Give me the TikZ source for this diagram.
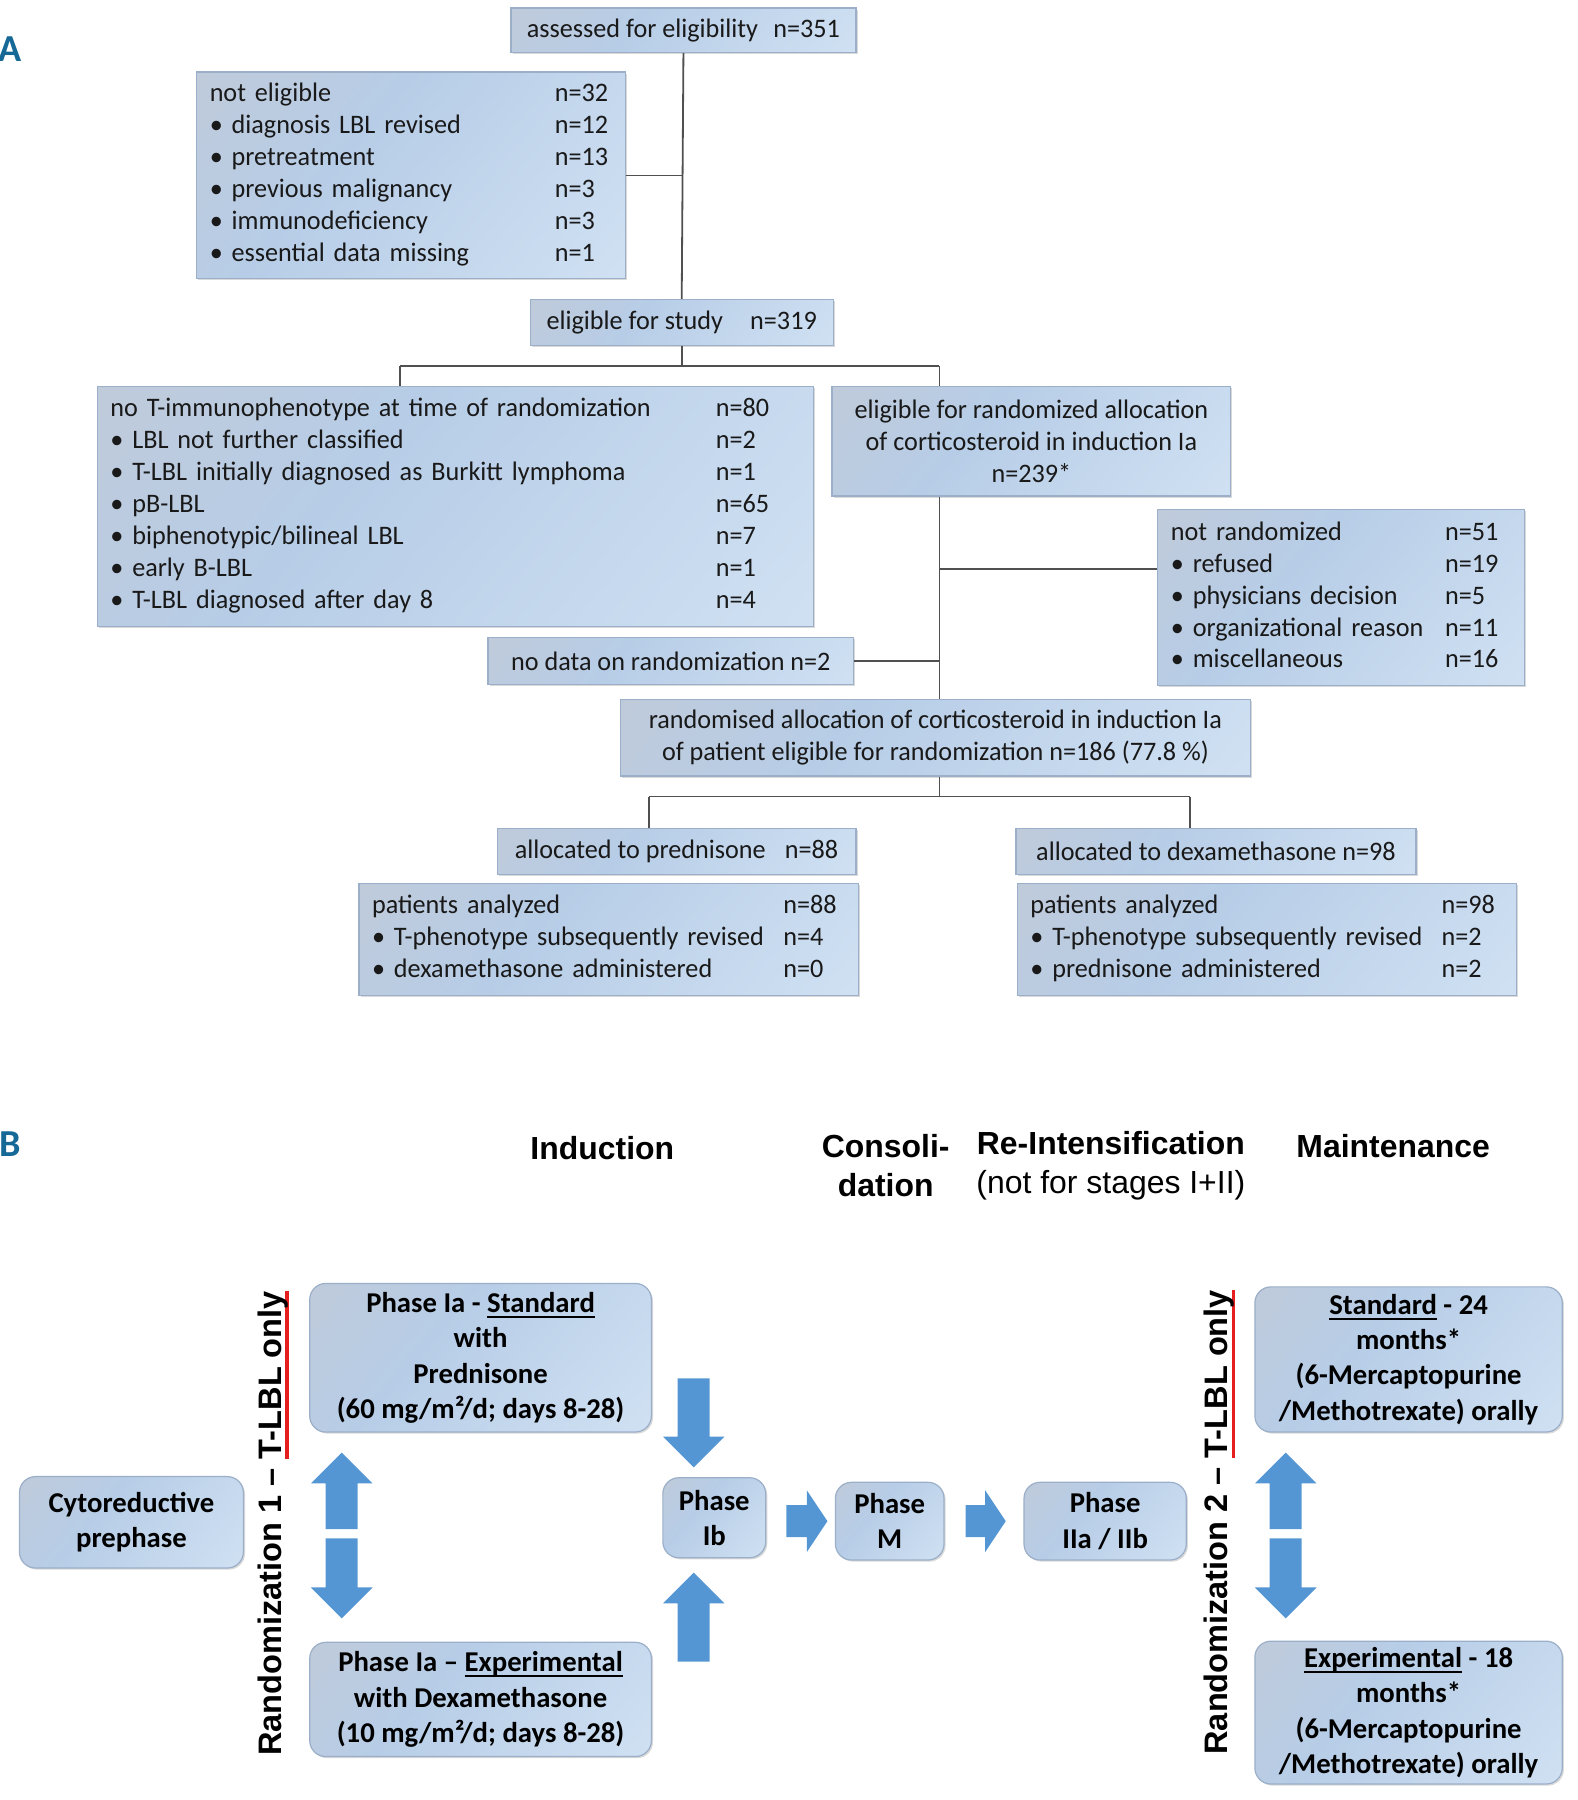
\documentclass[tikz,border=0pt]{standalone}
\usepackage{fontspec}
\setmainfont{Carlito}
\newfontfamily\carA{Carlito}[FakeStretch=0.98]
\newfontfamily\hdr{Liberation Sans}
\usetikzlibrary{shadows}
\definecolor{gA}{RGB}{196,201,211}
\definecolor{gB}{RGB}{183,205,231}
\definecolor{gC}{RGB}{216,231,246}
\definecolor{bordc}{RGB}{155,175,200}
\definecolor{linec}{RGB}{80,80,80}
\definecolor{txtc}{RGB}{25,25,25}
\definecolor{arrc}{RGB}{84,150,211}
\definecolor{labc}{RGB}{22,104,150}
\definecolor{ulred}{RGB}{230,30,30}
\pgfdeclarehorizontalshading{boxgrad}{100bp}{color(0bp)=(gA); color(40bp)=(gB); color(100bp)=(gC)}
\newcommand{\fA}{\carA\fontsize{13.3pt}{15.9pt}\selectfont}
\newcommand{\fB}{\fontsize{14.3pt}{17.6pt}\selectfont\bfseries}
\newcommand{\fH}{\hdr\fontsize{15.9pt}{19.3pt}\selectfont}
\newcommand{\fR}{\hdr\fontsize{16.2pt}{19.3pt}\selectfont\bfseries}
\newsavebox\ulbox
\newcommand{\myul}[2]{\sbox\ulbox{#2}\rlap{\color{#1}\rule[-2.8pt]{\wd\ulbox}{1pt}}\usebox\ulbox}
\newcommand{\myulr}[2]{\sbox\ulbox{#2}\rlap{\color{#1}\rule[-3.6pt]{\wd\ulbox}{1.6pt}}\usebox\ulbox}
\newcommand{\blkup}[3]{\fill[arrc] ({#1-14},#3) -- ({#1-14},{#2+27}) -- ({#1-27},{#2+27}) -- (#1,#2) -- ({#1+27},{#2+27}) -- ({#1+14},{#2+27}) -- ({#1+14},#3) -- cycle;}
\newcommand{\blkdown}[3]{\fill[arrc] ({#1-14},#3) -- ({#1-14},{#2-27}) -- ({#1-27},{#2-27}) -- (#1,#2) -- ({#1+27},{#2-27}) -- ({#1+14},{#2-27}) -- ({#1+14},#3) -- cycle;}
\newcommand{\blkright}[3]{\fill[arrc] (#3,{#1-14}) -- ({#2-18},{#1-14}) -- ({#2-18},{#1-27}) -- (#2,#1) -- ({#2-18},{#1+27}) -- ({#2-18},{#1+14}) -- (#3,{#1+14}) -- cycle;}
\tikzset{
  shadowstyle/.style={drop shadow={shadow xshift=0.8pt, shadow yshift=-0.8pt, opacity=0.25, fill=black!60}},
  abox/.style={draw=bordc, line width=0.6pt, shading=boxgrad, shading angle=-40, shadowstyle,
    inner xsep=0.23cm, inner ysep=0pt, font=\fA, text=txtc},
  cbox/.style={abox, align=center, inner xsep=0pt},
  bbox/.style={draw=bordc, line width=0.6pt, rounded corners=0.28cm, shading=boxgrad, shading angle=-40,
    shadowstyle, font=\fB, text=black, align=center, inner sep=0pt},
  conn/.style={draw=linec, line width=0.9pt},
  hdrs/.style={font={\fH\bfseries}, text=black, align=center, inner sep=0pt},
  rot/.style={rotate=90, font=\fR, text=black, inner sep=0pt},
  lab/.style={font={\fontsize{19pt}{22pt}\selectfont\bfseries}, text=labc, inner sep=0pt}
}
\begin{document}
\begin{tikzpicture}[x=0.02cm, y=-0.02cm]
\useasboundingbox (0,0) rectangle (1380,1575);
% ---------- Part A ----------
\node[lab] (la) at (9,43) {A};
\node[cbox, minimum width=6.04cm, minimum height=0.78cm] (n1) at (598,26.5) {assessed for eligibility\hspace{0.35em} n=351};
\node[abox, text width=7.04cm, minimum height=3.62cm, align=left] (n2) at (359.5,153.5) {%
\begin{tabular}{@{}p{6.04cm}@{}l@{}}
not eligible & n=32\\
• diagnosis LBL revised & n=12\\
• pretreatment & n=13\\
• previous malignancy & n=3\\
• immunodeficiency & n=3\\
• essential data missing & n=1
\end{tabular}};
\node[cbox, minimum width=5.3cm, minimum height=0.8cm] (n3) at (596.5,282) {eligible for study\hspace{0.8em} n=319};
\node[abox, text width=12.08cm, minimum height=4.2cm, align=left] (n4) at (398.5,443) {%
\begin{tabular}{@{}p{10.6cm}@{}l@{}}
no T-immunophenotype at time of randomization & n=80\\
• LBL not further classified & n=2\\
• T-LBL initially diagnosed as Burkitt lymphoma & n=1\\
• pB-LBL & n=65\\
• biphenotypic/bilineal LBL & n=7\\
• early B-LBL & n=1\\
• T-LBL diagnosed after day 8 & n=4
\end{tabular}};
\node[cbox, minimum width=6.98cm, minimum height=1.92cm] (n5) at (902.5,386) {eligible for randomized allocation\\of corticosteroid in induction Ia\\n=239*};
\node[abox, text width=5.96cm, minimum height=3.08cm, align=left] (n6) at (1173.5,523) {%
\begin{tabular}{@{}p{4.8cm}@{}l@{}}
not randomized & n=51\\
• refused & n=19\\
• physicians decision & n=5\\
• organizational reason & n=11\\
• miscellaneous & n=16
\end{tabular}};
\node[cbox, minimum width=6.4cm, minimum height=0.82cm] (n7) at (587,578.5) {no data on randomization n=2};
\node[cbox, minimum width=11.02cm, minimum height=1.34cm] (n8) at (818.5,645.5) {randomised allocation of corticosteroid in induction Ia\\of patient eligible for randomization n=186 (77.8~\%)};
\node[cbox, minimum width=6.28cm, minimum height=0.8cm] (n9) at (592,745) {allocated to prednisone\hspace{0.5em} n=88};
\node[cbox, minimum width=7.0cm, minimum height=0.8cm] (n10) at (1064,745) {allocated to dexamethasone n=98};
\node[abox, text width=8.28cm, minimum height=1.96cm, align=left] (n11) at (532.5,822) {%
\begin{tabular}{@{}p{7.2cm}@{}l@{}}
patients analyzed & n=88\\
• T-phenotype subsequently revised & n=4\\
• dexamethasone administered & n=0
\end{tabular}};
\node[abox, text width=8.28cm, minimum height=1.96cm, align=left] (n12) at (1108.5,822) {%
\begin{tabular}{@{}p{7.2cm}@{}l@{}}
patients analyzed & n=98\\
• T-phenotype subsequently revised & n=2\\
• prednisone administered & n=2
\end{tabular}};
% connectors A
\draw[conn] (n1.south) -- (n3.north);
\draw[conn] (n2.east) -- (n2.east -| n1.south);
\coordinate (j1) at (596.5,320);
\coordinate (j1l) at (350,320);
\coordinate (j1r) at (822,320);
\draw[conn] (n3.south) -- (j1);
\draw[conn] (j1l) -- (j1r);
\draw[conn] (j1l) -- (j1l |- n4.north);
\draw[conn] (j1r) -- (j1r |- n5.north);
\draw[conn] (j1r |- n5.south) -- (j1r |- n8.north);
\coordinate (j2) at (822,498);
\draw[conn] (j2) -- (j2 -| n6.west);
\coordinate (j3) at (822,578.5);
\draw[conn] (n7.east) -- (j3);
\coordinate (j4) at (822,697);
\coordinate (j4l) at (568,697);
\coordinate (j4r) at (1041,697);
\draw[conn] (j1r |- n8.south) -- (j4);
\draw[conn] (j4l) -- (j4r);
\draw[conn] (j4l) -- (j4l |- n9.north);
\draw[conn] (j4r) -- (j4r |- n10.north);
% ---------- Part B ----------
\node[lab] (lb) at (9,1001) {B};
\node[hdrs] (h1) at (527,1005) {Induction};
\node[hdrs] (h2) at (775,1020) {Consoli-\\dation};
\node[hdrs, font=\fH] (h3) at (972,1020) {{\bfseries Re-Intensification}\\(not for stages I+II)};
\node[hdrs] (h4) at (1219,1003) {Maintenance};
\node[bbox, minimum width=3.92cm, minimum height=1.6cm] (b1) at (115,1332) {Cytoreductive\\prephase};
\node[rot] (r1) at (239,1333) {Randomization 1 – \myulr{ulred}{T-LBL only}};
\node[bbox, minimum width=5.98cm, minimum height=2.6cm] (b2) at (420.5,1188) {Phase Ia - \myul{black}{Standard}\\with\\Prednisone\\(60 mg/m²/d; days 8-28)};
\node[bbox, minimum width=5.98cm, minimum height=2.0cm] (b3) at (420.5,1487) {Phase Ia – \myul{black}{Experimental}\\with Dexamethasone\\(10 mg/m²/d; days 8-28)};
\node[bbox, minimum width=1.8cm, minimum height=1.4cm] (b4) at (625,1328) {Phase\\Ib};
\node[bbox, minimum width=1.9cm, minimum height=1.36cm] (b5) at (778.5,1331) {Phase\\M};
\node[bbox, minimum width=2.84cm, minimum height=1.36cm] (b6) at (967,1331) {Phase\\IIa / IIb};
\node[rot] (r2) at (1067,1332) {Randomization 2 – \myulr{ulred}{T-LBL only}};
\node[bbox, minimum width=5.38cm, minimum height=2.54cm] (b7) at (1232.5,1189.5) {\myul{black}{Standard} - 24\\months*\\(6-Mercaptopurine\\/Methotrexate) orally};
\node[bbox, minimum width=5.38cm, minimum height=2.5cm] (b8) at (1232.5,1498.5) {\myul{black}{Experimental} - 18\\months*\\(6-Mercaptopurine\\/Methotrexate) orally};
% block arrows
\blkup{299}{1271}{1338}
\blkdown{299}{1416}{1346}
\blkdown{607}{1284}{1206}
\blkup{607}{1376}{1454}
\blkright{1331}{724}{688}
\blkright{1331}{880}{845}
\blkup{1125}{1271}{1338}
\blkdown{1125}{1416}{1346}
\end{tikzpicture}
\end{document}
